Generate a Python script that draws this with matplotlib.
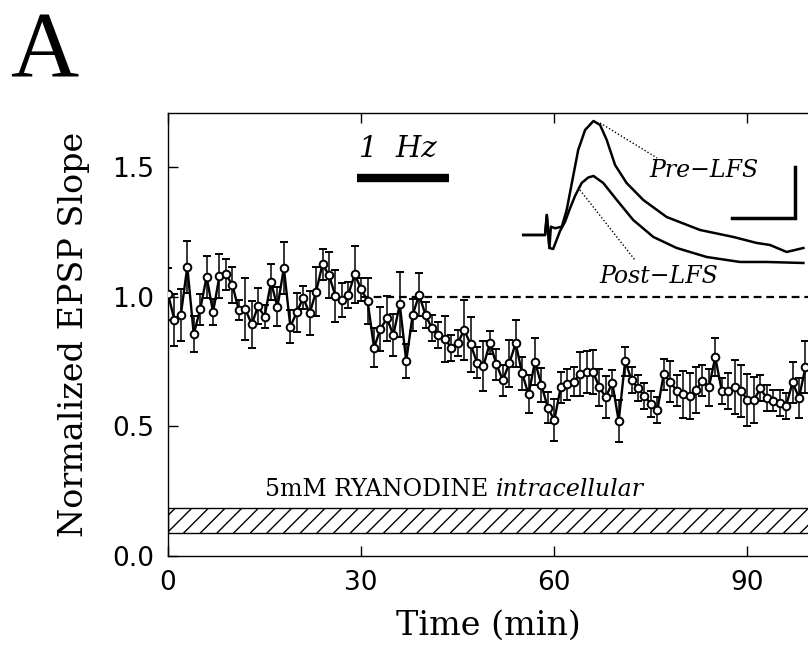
import matplotlib
matplotlib.use('Agg')
import matplotlib.pyplot as plt
from matplotlib.patches import Rectangle
import numpy as np

# --- values ---
time_min = np.arange(100)  # one sample per minute
epsp_slope = [
    1.01, 0.91, 0.93, 1.115, 0.855, 0.95, 1.076, 0.94, 1.08, 1.085,
    1.044, 0.948, 0.952, 0.893, 0.963, 0.922, 1.055, 0.96, 1.11, 0.884,
    0.939, 0.995, 0.935, 1.019, 1.124, 1.083, 1.002, 0.987, 1.006, 1.086,
    1.028, 0.983, 0.803, 0.875, 0.916, 0.852, 0.97, 0.751, 0.929, 1.006,
    0.929, 0.877, 0.852, 0.836, 0.803, 0.82, 0.871, 0.816, 0.745, 0.733,
    0.822, 0.739, 0.678, 0.742, 0.82, 0.704, 0.623, 0.749, 0.659, 0.571,
    0.524, 0.65, 0.662, 0.672, 0.701, 0.71, 0.71, 0.65, 0.612, 0.668,
    0.52, 0.751, 0.678, 0.646, 0.617, 0.586, 0.563, 0.701, 0.672, 0.637,
    0.623, 0.617, 0.64, 0.676, 0.65, 0.766, 0.637, 0.637, 0.652, 0.637,
    0.601, 0.601, 0.646, 0.608, 0.598, 0.588, 0.578, 0.669, 0.61, 0.727,
]
epsp_sem = [
    0.10, 0.10, 0.10, 0.10, 0.07, 0.06, 0.08, 0.05, 0.085, 0.06,
    0.07, 0.04, 0.12, 0.09, 0.07, 0.045, 0.07, 0.075, 0.10, 0.065,
    0.075, 0.045, 0.085, 0.095, 0.06, 0.09, 0.10, 0.065, 0.05, 0.11,
    0.045, 0.09, 0.075, 0.085, 0.087, 0.08, 0.126, 0.066, 0.06, 0.083,
    0.05, 0.05, 0.05, 0.087, 0.05, 0.05, 0.116, 0.106, 0.06, 0.097,
    0.045, 0.06, 0.06, 0.09, 0.09, 0.064, 0.073, 0.09, 0.065, 0.06,
    0.08, 0.06, 0.06, 0.055, 0.086, 0.08, 0.085, 0.07, 0.08, 0.05,
    0.08, 0.056, 0.05, 0.05, 0.05, 0.05, 0.05, 0.06, 0.08, 0.06,
    0.09, 0.09, 0.09, 0.06, 0.07, 0.073, 0.05, 0.07, 0.105, 0.10,
    0.10, 0.09, 0.05, 0.05, 0.04, 0.05, 0.05, 0.08, 0.077, 0.10,
]

BASELINE_LEVEL = 1.0
DASH_START = 30
LFS_START, LFS_END = 29.3, 43.7      # 1 Hz bar (min)
LFS_BAR_Y = 1.457
DRUG_START, DRUG_END = 0, 120        # ryanodine bar (min)
DRUG_LOW, DRUG_HIGH = 0.09, 0.185

X_TICKS = [0, 30, 60, 90]
Y_TICKS = [0.0, 0.5, 1.0, 1.5]
X_MAX = 99.4
Y_MAX = 1.707

# example traces (ms, mV)
pre_t = [1.1, 8.7, 9.3, 10.2, 10.7, 12.2, 14.5, 16.2, 18.0, 20.2, 22.6, 25.5,
         27.8, 30.1, 33.0, 37.0, 42.8, 50.9, 62.5, 74.1, 82.2, 86.8, 92.6, 98.4]
pre_mv = [0, 0, 2.0, -1.3, 0.83, 0.67, 0.83, 2.5, 5.2, 8.5, 10.5, 11.4,
          11.0, 9.5, 7.0, 5.2, 3.5, 1.8, 0.5, -0.2, -0.8, -1.0, -1.7, -1.3]
post_t = [1.1, 8.7, 9.3, 10.2, 11.5, 12.7, 13.9, 15.6, 17.4, 19.1, 21.4, 23.7,
          25.5, 28.9, 33.6, 39.3, 46.3, 54.4, 64.8, 76.4, 85.7, 98.4]
post_mv = [0, 0, 2.0, -1.3, -1.4, -0.5, 0.4, 1.3, 2.7, 3.9, 5.2, 5.75,
           5.9, 5.2, 3.5, 1.5, -0.2, -1.3, -2.2, -2.7, -2.7, -2.8]
pre_pointer_t, pre_pointer_mv = [27.8, 47.6], [11.2, 7.7]
post_pointer_t, post_pointer_mv = [20.8, 39.9], [4.5, -2.5]
SCALE_MS, SCALE_MV = 22, 5.1
SCALE_X0, SCALE_Y0 = 73.5, 1.7

SERIF = 'DejaVu Serif'
SANS = 'DejaVu Sans'

fig = plt.figure(figsize=(8.08, 6.47), dpi=100)
ax = fig.add_axes([0.2079, 0.1406, 0.7921, 0.6847])

# drug application bar
ax.add_patch(Rectangle((DRUG_START, DRUG_LOW), DRUG_END - DRUG_START,
                       DRUG_HIGH - DRUG_LOW, fill=False, hatch='//',
                       edgecolor='black', linewidth=1.0, zorder=2))
t1 = ax.text(15, 0.255, '5mM RYANODINE ', fontsize=17, family=SERIF,
             va='center', ha='left')
ax.annotate('intracellular', xy=(1, 0), xycoords=t1, xytext=(0, 0),
            textcoords='offset points', va='bottom', ha='left',
            fontsize=17, family=SERIF, style='italic')

# 1 Hz stimulation bar
ax.plot([LFS_START, LFS_END], [LFS_BAR_Y, LFS_BAR_Y], color='black',
        lw=6, solid_capstyle='butt')
ax.text(LFS_START + 0.3, 1.57, '1  Hz', fontsize=21, family=SERIF,
        style='italic', va='center', ha='left')

ax.hlines(BASELINE_LEVEL, DASH_START, X_MAX, colors='black', lw=1.6,
          linestyles=(0, (3.5, 2.2)), zorder=1)

ax.errorbar(time_min, epsp_slope, yerr=epsp_sem, fmt='-o', color='black',
            mfc='white', mec='black', ms=5.5, mew=1.4, lw=1.7,
            elinewidth=1.1, capsize=3.2, capthick=1.1, zorder=3)

ax.text(83.2, 1.487, 'Pre\u2212LFS', fontsize=17, family=SERIF,
        style='italic', ha='center', va='center')
ax.text(76.2, 1.076, 'Post\u2212LFS', fontsize=17, family=SERIF,
        style='italic', ha='center', va='center')

ax.set_xlim(0, X_MAX)
ax.set_ylim(0, Y_MAX)
ax.set_xticks(X_TICKS)
ax.set_yticks(Y_TICKS)
ax.set_yticklabels([f'{v:.1f}' for v in Y_TICKS])
ax.tick_params(direction='in', top=True, right=False, length=7, width=1,
               labelsize=19, pad=10)
for lab in ax.get_xticklabels() + ax.get_yticklabels():
    lab.set_family(SANS)
ax.spines['right'].set_visible(False)
for s in ('left', 'bottom', 'top'):
    ax.spines[s].set_linewidth(1.0)
ax.set_xlabel('Time (min)', fontsize=24, family=SERIF, labelpad=10)
ax.set_ylabel('Normalized EPSP Slope', fontsize=24, family=SERIF, labelpad=16)

# inset with example EPSPs
ins = fig.add_axes([0.6436, 0.5518, 0.3564, 0.2736])
ins.axis('off')
ins.set_xlim(0, 100)
ins.set_ylim(-5.5, 12.2)
ins.plot(pre_t, pre_mv, color='black', lw=1.8)
ins.plot(post_t, post_mv, color='black', lw=1.8)
ins.plot(pre_pointer_t, pre_pointer_mv, color='black', lw=1.0, ls=(0, (1, 1.5)))
ins.plot(post_pointer_t, post_pointer_mv, color='black', lw=1.0, ls=(0, (1, 1.5)))
ins.plot([SCALE_X0, SCALE_X0 + SCALE_MS, SCALE_X0 + SCALE_MS],
         [SCALE_Y0, SCALE_Y0, SCALE_Y0 + SCALE_MV], color='black', lw=2.5,
         solid_joinstyle='miter')

fig.text(0.012, 0.882, 'A', fontsize=68, family='Liberation Serif',
         ha='left', va='baseline')

fig.savefig('out.png', dpi=100)
